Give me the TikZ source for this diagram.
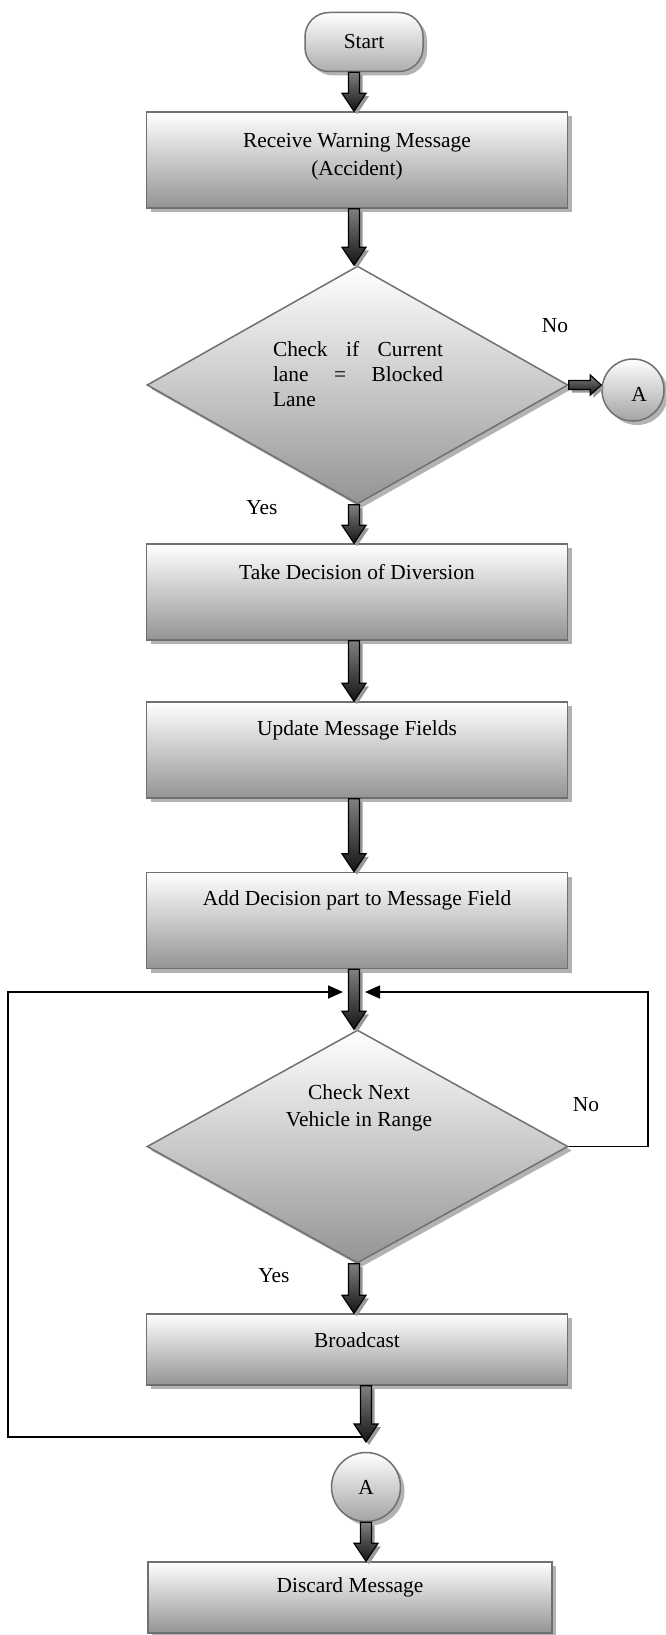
\documentclass[tikz,border=0pt]{standalone}
\usepackage{fontspec}
\setmainfont{Liberation Serif}
\usetikzlibrary{shapes.geometric,shadows,calc,arrows.meta}

\newcommand\flowfont{\fontsize{21.4pt}{28pt}\selectfont}

\tikzset{
  shade box/.style={draw=black!56, line width=1.5pt, top color=white, bottom color=black!42,
    drop shadow={shadow xshift=4pt, shadow yshift=-4pt, fill=black!30, opacity=1}},
  procbox/.style={shade box, rectangle, minimum width=421pt, minimum height=96pt, inner sep=0pt},
  decision/.style={shade box, diamond, minimum width=421pt, inner sep=0pt},
  terminal/.style={shade box, rectangle, rounded corners=24pt, minimum width=118pt,
    minimum height=59pt, inner sep=0pt, bottom color=black!32, font=\flowfont},
  joinpt/.style={shade box, circle, inner sep=0pt, bottom color=black!36, font=\flowfont},
  txt/.style={font=\flowfont, inner sep=0pt},
  fatdown/.style={draw=black, line width=1.2pt, line join=miter,
    top color=black!50, bottom color=black!92,
    drop shadow={shadow xshift=3pt, shadow yshift=-3pt, fill=black!40, opacity=1},
    to path={let \p1=(\tikztostart), \p2=(\tikztotarget) in
      (\x1-5.5pt,\y1) -- (\x1+5.5pt,\y1) -- (\x1+5.5pt,\y2+18pt) -- (\x1+12pt,\y2+18pt)
      -- (\x1,\y2) -- (\x1-12pt,\y2+18pt) -- (\x1-5.5pt,\y2+18pt) -- cycle}},
  fatright/.style={draw=black, line width=1.2pt, line join=miter,
    top color=black!50, bottom color=black!92,
    drop shadow={shadow xshift=3pt, shadow yshift=-3pt, fill=black!40, opacity=1},
    to path={let \p1=(\tikztostart), \p2=(\tikztotarget) in
      (\x1,\y1+4.5pt) -- (\x2-11pt,\y1+4.5pt) -- (\x2-11pt,\y1+10pt) -- (\x2,\y1)
      -- (\x2-11pt,\y1-10pt) -- (\x2-11pt,\y1-4.5pt) -- (\x1,\y1-4.5pt) -- cycle}},
  loopline/.style={draw=black, line width=1.6pt, -{Triangle[length=15pt,width=13pt]}},
}

\begin{document}
\begin{tikzpicture}[x=1pt,y=-1pt]
  \useasboundingbox (0,0) rectangle (666,1635);
  \fill[white] (0,0) rectangle (666,1635);

  % flow chart shapes
  \node[terminal] (start) at (364,42) {Start};

  \node[procbox] (rec) at (357,160) {};
  \node[txt, align=center] (rec-t) at (357,157) {Receive Warning Message\\(Accident)};

  \node[decision, minimum height=238pt] (d1) at (357.5,385) {};
  \node[txt, align=left, font=\fontsize{21.4pt}{25pt}\selectfont] (d1-t) at (358,374)
    {\makebox[170pt][s]{Check if Current}\\\makebox[170pt][s]{lane = Blocked}\\Lane};
  \node[txt] (no1) at (555,326) {No};
  \node[joinpt, minimum size=62pt] (a1) at (633,390) {};
  \node[txt] (a1-t) at (639,394) {A};
  \node[txt] (yes1) at (262,508) {Yes};

  \node[procbox] (take) at (357,592) {};
  \node[txt] (take-t) at (357,572) {Take Decision of Diversion};

  \node[procbox] (upd) at (357,750) {};
  \node[txt] (upd-t) at (357,730) {Update Message Fields};

  \node[procbox] (add) at (357,920.5) {};
  \node[txt] (add-t) at (357,900) {Add Decision part to Message Field};

  \node[decision, minimum height=233pt] (d2) at (357.5,1146.5) {};
  \node[txt, align=center, font=\fontsize{21.4pt}{27pt}\selectfont] (d2-t) at (359,1108)
    {Check Next\\Vehicle in Range};
  \node[txt] (no2) at (586,1105) {No};
  \node[txt] (yes2) at (274,1276) {Yes};

  \node[procbox, minimum height=71pt] (bc) at (357,1349.5) {};
  \node[txt] (bc-t) at (357,1340) {Broadcast};

  \node[joinpt, minimum size=69pt] (a2) at (366,1487) {A};

  \node[procbox, minimum width=404pt, minimum height=71pt] (dis) at (350,1597.5) {};
  \node[txt] (dis-t) at (350,1587) {Discard Message};

  % reference points of the connectors
  \coordinate (col) at (354,0);
  \coordinate (colb) at (366,0);
  \coordinate (mergeL) at (343,992);
  \coordinate (mergeR) at (365,992);
  \coordinate (loopL) at (8,0);
  \coordinate (loopR) at (648,0);
  \coordinate (bcout) at (362,1437);
  \coordinate (a2in) at (366,1442);

  % loop-back lines
  \draw[loopline] (bcout) -- (bcout -| loopL) -- (mergeL -| loopL) -- (mergeL);
  \draw[loopline] (d2.east) -- (d2.east -| loopR) -- (mergeR -| loopR) -- (mergeR);

  % block arrows
  \draw[fatdown] (start.south -| col) to (rec.north -| col);
  \draw[fatdown] (rec.south -| col) to (d1.north -| col);
  \draw[fatdown] (d1.south -| col) to (take.north -| col);
  \draw[fatdown] (take.south -| col) to (upd.north -| col);
  \draw[fatdown] (upd.south -| col) to (add.north -| col);
  \draw[fatdown] (add.south -| col) to (d2.north -| col);
  \draw[fatdown] (d2.south -| col) to (bc.north -| col);
  \draw[fatdown] (bc.south -| colb) to (a2in);
  \draw[fatdown] (a2.south -| colb) to (dis.north -| colb);
  \draw[fatright] (d1.east) to (a1.west);
\end{tikzpicture}
\end{document}
